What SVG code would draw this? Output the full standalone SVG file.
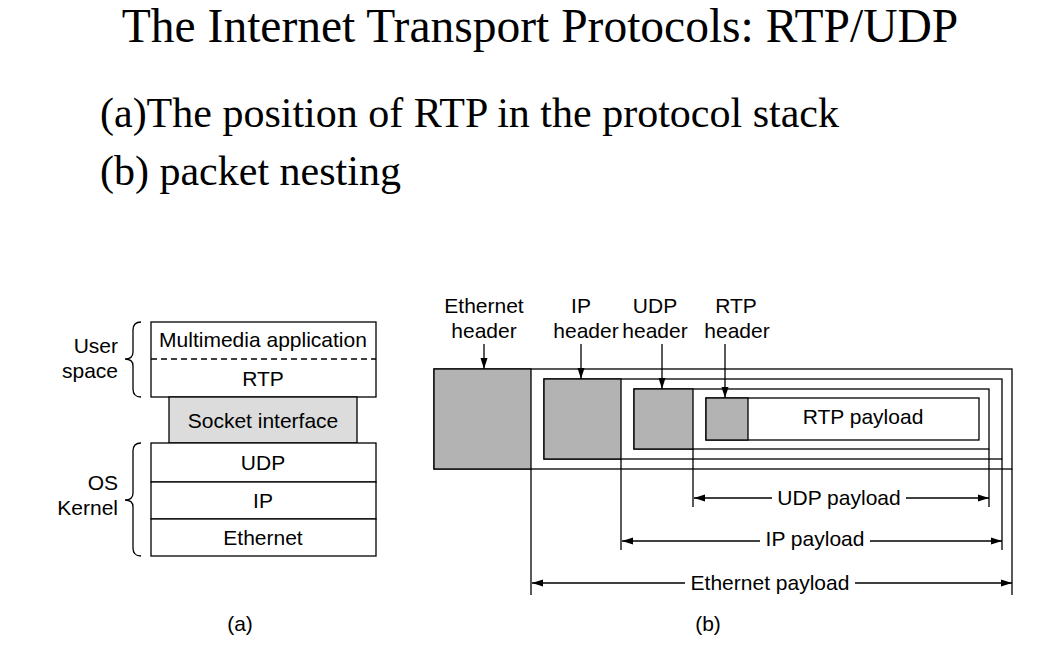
<svg xmlns="http://www.w3.org/2000/svg" width="1058" height="646" viewBox="0 0 1058 646">
<defs>
<style>
.t{font-family:"Liberation Serif","Times New Roman",serif;fill:#000}
.s{font-family:"Liberation Sans",Arial,sans-serif;font-size:21px;fill:#000}
.m{text-anchor:middle}
.e{text-anchor:end}
.box{fill:#fff;stroke:#000;stroke-width:1.3}
.g{fill:#b3b3b3;stroke:#000;stroke-width:1.3}
.ln{fill:none;stroke:#000;stroke-width:1.3}
.ar{fill:none;stroke:#000;stroke-width:1.3;marker-end:url(#ah)}
</style>
<marker id="ah" markerUnits="userSpaceOnUse" markerWidth="12" markerHeight="8" refX="11" refY="4" orient="auto">
<path d="M0,0.5 L11,4 L0,7.5 z" fill="#000"/>
</marker>
</defs>
<rect width="1058" height="646" fill="#fff"/>
<g id="title">
<text class="t m" x="540" y="42" font-size="47.5">The Internet Transport Protocols: RTP/UDP</text>
<text class="t" x="100" y="127" font-size="42">(a)The position of RTP in the protocol stack</text>
<text class="t" x="100" y="185" font-size="42">(b) packet nesting</text>
</g>
<g id="stack">
<g id="user-space">
<rect class="box" x="151" y="322" width="225" height="75"/>
<line class="ln" x1="151" y1="359" x2="376" y2="359" stroke-dasharray="6,4"/>
<text class="s m" x="263" y="347">Multimedia application</text>
<text class="s m" x="263" y="386">RTP</text>
</g>
<g id="socket">
<rect x="169" y="397" width="188" height="46" fill="#dcdcdc" stroke="#000" stroke-width="1.3"/>
<text class="s m" x="263" y="428">Socket interface</text>
</g>
<g id="udp"><rect class="box" x="151" y="443" width="225" height="39"/><text class="s m" x="263" y="470">UDP</text></g>
<g id="ip"><rect class="box" x="151" y="482" width="225" height="37"/><text class="s m" x="263" y="508">IP</text></g>
<g id="ethernet"><rect class="box" x="151" y="519" width="225" height="37"/><text class="s m" x="263" y="545">Ethernet</text></g>
<g id="brace-user">
<path class="ln" d="M141,322 Q133,322 133,330 L133,352 Q133,359 125,359 Q133,359 133,366 L133,389 Q133,397 141,397"/>
<text class="s e" x="118" y="353">User</text>
<text class="s e" x="118" y="378">space</text>
</g>
<g id="brace-kernel">
<path class="ln" d="M141,443 Q133,443 133,451 L133,493 Q133,500 125,500 Q133,500 133,507 L133,548 Q133,556 141,556"/>
<text class="s e" x="118" y="490">OS</text>
<text class="s e" x="118" y="515">Kernel</text>
</g>
<text class="s m" x="240" y="631">(a)</text>
</g>
<g id="packet">
<g id="eth-frame"><rect class="box" x="434" y="369" width="578" height="100"/><rect class="g" x="434" y="369" width="97" height="100"/></g>
<g id="ip-packet"><rect class="box" x="544" y="379" width="458" height="80"/><rect class="g" x="544" y="379" width="77" height="80"/></g>
<g id="udp-packet"><rect class="box" x="634" y="389" width="355" height="60"/><rect class="g" x="634" y="389" width="59" height="60"/></g>
<g id="rtp-packet"><rect class="box" x="706" y="398" width="273" height="42"/><rect class="g" x="706" y="398" width="42" height="42"/>
<text class="s m" x="863" y="424">RTP payload</text></g>
<g id="labels">
<text class="s m" x="484" y="313">Ethernet</text><text class="s m" x="484" y="338">header</text>
<text class="s m" x="581" y="313">IP</text><text class="s m" x="586" y="338">header</text>
<text class="s m" x="655" y="313">UDP</text><text class="s m" x="655" y="338">header</text>
<text class="s m" x="736" y="313">RTP</text><text class="s m" x="737" y="338">header</text>
<text class="s m" x="839" y="505">UDP payload</text>
<text class="s m" x="815" y="546">IP payload</text>
<text class="s m" x="770" y="590">Ethernet payload</text>
<text class="s m" x="708" y="631">(b)</text>
</g>
</g>
<g id="connectors">
<line class="ar" x1="484" y1="344" x2="484" y2="369"/>
<line class="ar" x1="581" y1="344" x2="581" y2="379"/>
<line class="ar" x1="662" y1="344" x2="662" y2="389"/>
<line class="ar" x1="725" y1="344" x2="725" y2="398"/>
<line class="ln" x1="531" y1="469" x2="531" y2="595"/>
<line class="ln" x1="621" y1="459" x2="621" y2="550"/>
<line class="ln" x1="693" y1="449" x2="693" y2="507"/>
<line class="ln" x1="989" y1="449" x2="989" y2="507"/>
<line class="ln" x1="1002" y1="459" x2="1002" y2="550"/>
<line class="ln" x1="1012" y1="469" x2="1012" y2="595"/>
<line class="ar" x1="772" y1="498" x2="694" y2="498"/>
<line class="ar" x1="906" y1="498" x2="989" y2="498"/>
<line class="ar" x1="760" y1="541" x2="622" y2="541"/>
<line class="ar" x1="870" y1="541" x2="1002" y2="541"/>
<line class="ar" x1="685" y1="583" x2="532" y2="583"/>
<line class="ar" x1="855" y1="583" x2="1012" y2="583"/>
</g>
</svg>
